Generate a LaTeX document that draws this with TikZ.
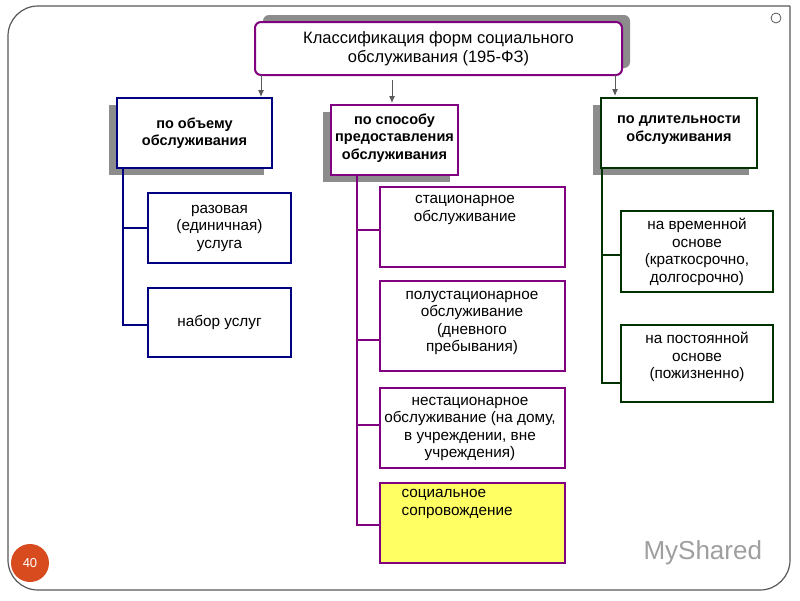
\documentclass[tikz,border=0pt]{standalone}
\usepackage{fontspec}
\setmainfont{Liberation Sans}
\usetikzlibrary{arrows.meta}
\definecolor{pur}{RGB}{128,0,128}
\definecolor{dblue}{RGB}{0,0,128}
\definecolor{dgreen}{RGB}{0,50,0}
\definecolor{shd}{RGB}{140,140,140}
\definecolor{org}{RGB}{215,75,30}
\begin{document}
\begin{tikzpicture}[x=1pt,y=-1pt,
  txt/.style={font=\fontsize{15.3}{17.5}\selectfont,align=center},
  btxt/.style={font=\fontsize{14.5}{17.5}\selectfont\bfseries,align=center},
  bx/.style={draw,line width=2pt,fill=white},
  sh/.style={fill=shd},
  conn/.style={line width=1.6pt},
  arr/.style={draw=gray!70!black,line width=1pt,-{Latex[length=7pt,width=6pt]}}]
\useasboundingbox (0,0) rectangle (800,600);
\fill[white] (0,0) rectangle (800,600);
% frame
\draw[gray!70!black,line width=1.2pt,rounded corners=30pt] (790,6) -- (8,6) -- (8,590) -- (790,590) [sharp corners]-- (790,6);
\draw[gray!70!black,line width=0.8pt] (776,18) circle (5);
% title
\fill[sh,rounded corners=6pt] (263,15) rectangle (630,68);
\draw[bx,draw=pur,rounded corners=6pt] (255,22) rectangle (622,75);
\node[txt,font=\fontsize{16.5}{19}\selectfont] (t) at (438.5,48.5) {Классификация форм социального\\обслуживания (195-ФЗ)};
% headers
\fill[sh] (109,105) rectangle (264,175);
\draw[bx,draw=dblue] (117,98) rectangle (272,168);
\node[btxt] (h1) at (194.5,133) {по объему\\обслуживания};
\fill[sh] (323,112) rectangle (450,182);
\draw[bx,draw=pur] (331,105) rectangle (458,175);
\node[btxt] (h2) at (394.5,138) {по способу\\предоставления\\обслуживания};
\fill[sh] (593,105) rectangle (749,175);
\draw[bx,draw=dgreen] (601,98) rectangle (757,168);
\node[btxt] (h3) at (679,130) {по длительности\\обслуживания};
\coordinate (a1) at (261,75); \coordinate (b1) at (261,97);
\coordinate (a2) at (392,80); \coordinate (b2) at (392,103);
\coordinate (a3) at (615,75); \coordinate (b3) at (615,96);
\draw[arr] (a1) -- (b1); \draw[arr] (a2) -- (b2); \draw[arr] (a3) -- (b3);
% left column
\draw[conn,dblue] (123,168) -- (123,325) -- (148,325) (123,228) -- (148,228);
\draw[bx,draw=dblue] (148,193) rectangle (291,263);
\node[txt] (l1) at (219.5,228) {разовая\\(единичная)\\услуга};
\draw[bx,draw=dblue] (148,288) rectangle (291,357);
\node[txt] (l2) at (219.5,322) {набор услуг};
% middle column
\draw[conn,pur] (357,175) -- (357,525) -- (380,525) (357,230) -- (380,230) (357,340) -- (380,340) (357,425) -- (380,425);
\draw[bx,draw=pur] (380,187) rectangle (565,267);
\node[txt] (m1) at (465,210) {стационарное\\обслуживание};
\draw[bx,draw=pur] (380,281) rectangle (565,371);
\node[txt] (m2) at (472,323) {полустационарное\\обслуживание\\(дневного\\пребывания)};
\draw[bx,draw=pur] (380,388) rectangle (565,468);
\node[txt] (m3) at (470,429) {нестационарное\\обслуживание (на дому,\\в учреждении, вне\\учреждения)};
\draw[bx,draw=pur,fill={rgb,255:red,255;green,255;blue,100}] (380,483) rectangle (565,563);
\node[txt,align=left,anchor=north west] (m4) at (398,486) {социальное\\сопровождение};
% right column
\draw[conn,dgreen] (602,168) -- (602,383) -- (621,383) (602,255) -- (621,255);
\draw[bx,draw=dgreen] (621,211) rectangle (773,292);
\node[txt] (r1) at (697,252) {на временной\\основе\\(краткосрочно,\\долгосрочно)};
\draw[bx,draw=dgreen] (621,325) rectangle (773,402);
\node[txt] (r2) at (697,357) {на постоянной\\основе\\(пожизненно)};
% page number
\fill[org] (30,563) circle (19);
\node[text=white,font=\fontsize{13}{15}\selectfont] (pn) at (30,563) {40};
% watermark
\node[text=gray!75,font=\fontsize{26}{30}\selectfont,anchor=west] (wm) at (640,553) {MyShared};
\end{tikzpicture}
\end{document}
